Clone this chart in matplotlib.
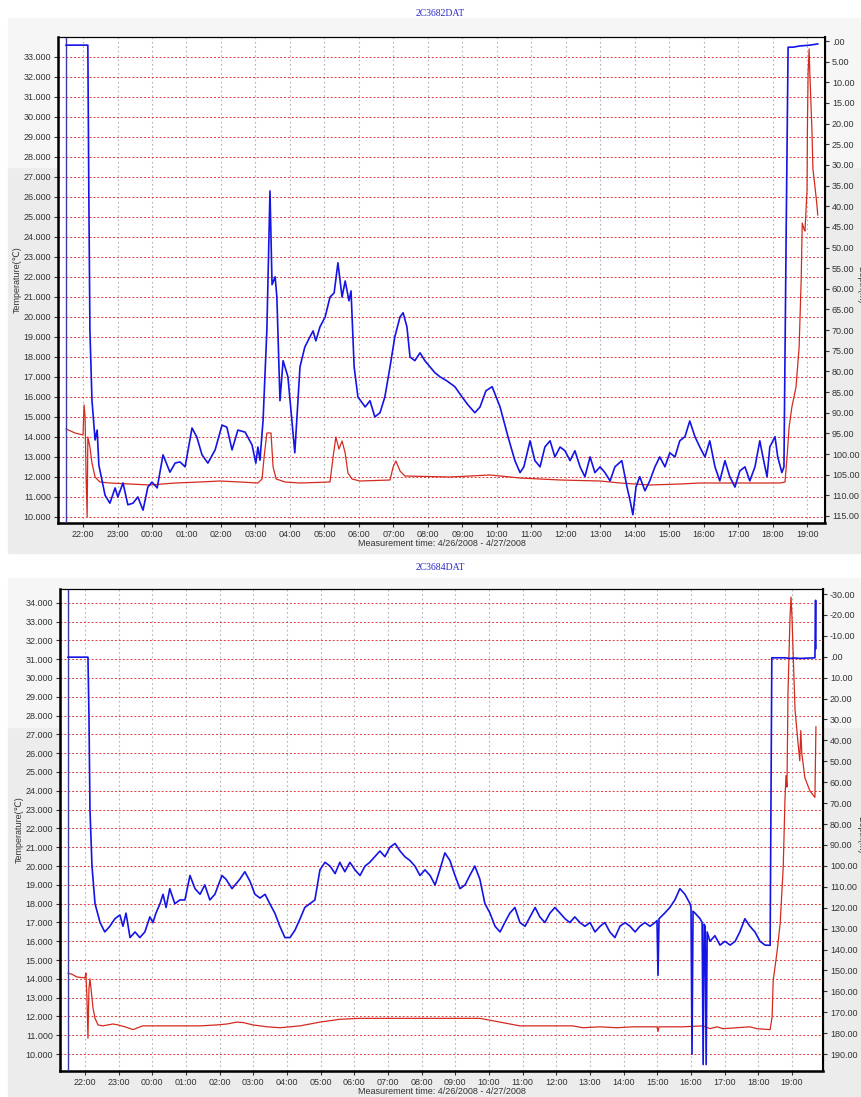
import matplotlib
matplotlib.use('Agg')
import matplotlib.pyplot as plt
from matplotlib.patches import Rectangle
from matplotlib.ticker import FuncFormatter

plt.rcParams['font.family'] = ['Liberation Sans', 'DejaVu Sans']

# time axis: decimal hours counted from 0:00 on 4/26/2008 (so 43 = 19:00 on 4/27)
hour_ticks = list(range(22, 44))

# ---- logger 2C3682DAT ----
top_temp_h = [21.51, 21.77, 22.00, 22.03, 22.06, 22.09, 22.12, 22.14, 22.20, 22.26, 22.35,
              22.49, 22.78, 23.36, 23.94, 24.67, 25.39, 25.97, 26.55, 27.07, 27.19, 27.25,
              27.33, 27.45, 27.51, 27.60, 27.86, 28.29, 29.16, 29.25, 29.33, 29.42, 29.51,
              29.60, 29.68, 29.80, 30.03, 30.90, 30.99, 31.07, 31.19, 31.33, 32.64, 33.80,
              34.67, 35.83, 36.99, 37.57, 38.44, 39.31, 39.89, 41.05, 42.21, 42.35, 42.41,
              42.47, 42.55, 42.67, 42.76, 42.82, 42.85, 42.90, 42.93, 42.99, 43.00, 43.02,
              43.05, 43.07, 43.13, 43.16, 43.22, 43.27, 43.30]
top_temp = [14.4, 14.2, 14.1, 15.6, 15.0, 12.0, 10.0, 14.0, 13.5, 12.7, 12.0,
            11.75, 11.7, 11.65, 11.6, 11.7, 11.75, 11.8, 11.75, 11.7, 11.9, 13.0,
            14.2, 14.2, 12.5, 11.9, 11.75, 11.7, 11.75, 13.0, 14.0, 13.4, 13.8,
            13.2, 12.2, 11.9, 11.8, 11.85, 12.5, 12.8, 12.3, 12.05, 12.0, 12.1,
            11.95, 11.85, 11.8, 11.7, 11.6, 11.65, 11.7, 11.7, 11.7, 11.75, 13.0,
            14.5, 15.5, 16.5, 18.5, 21.9, 24.7, 24.4, 24.3, 26.4, 29.4, 32.2,
            33.4, 32.2, 29.4, 27.4, 26.5, 25.7, 25.1]

top_depth_h = [21.51, 22.12, 22.14, 22.17, 22.20, 22.26, 22.35, 22.41, 22.46, 22.55, 22.64,
               22.78, 22.93, 23.01, 23.16, 23.30, 23.45, 23.59, 23.74, 23.88, 24.00, 24.15,
               24.32, 24.52, 24.67, 24.81, 24.96, 25.16, 25.30, 25.45, 25.62, 25.83, 26.03,
               26.17, 26.32, 26.49, 26.70, 26.90, 27.01, 27.07, 27.13, 27.22, 27.33, 27.42,
               27.48, 27.57, 27.62, 27.71, 27.80, 27.94, 28.14, 28.29, 28.43, 28.58, 28.67,
               28.75, 28.87, 29.02, 29.16, 29.28, 29.39, 29.51, 29.60, 29.71, 29.77, 29.86,
               29.97, 30.18, 30.32, 30.46, 30.61, 30.75, 30.90, 31.04, 31.19, 31.28, 31.39,
               31.48, 31.62, 31.77, 31.91, 32.06, 32.20, 32.35, 32.55, 32.78, 32.99, 33.16,
               33.36, 33.51, 33.68, 33.86, 34.09, 34.32, 34.52, 34.67, 34.78, 34.96, 35.10,
               35.25, 35.39, 35.54, 35.68, 35.83, 35.97, 36.12, 36.26, 36.41, 36.55, 36.70,
               36.84, 36.99, 37.13, 37.28, 37.42, 37.62, 37.77, 37.86, 37.94, 38.03, 38.14,
               38.29, 38.43, 38.58, 38.72, 38.87, 39.01, 39.16, 39.30, 39.45, 39.59, 39.74,
               39.88, 40.03, 40.17, 40.32, 40.46, 40.61, 40.75, 40.90, 41.04, 41.19, 41.33,
               41.48, 41.62, 41.71, 41.83, 41.91, 42.06, 42.14, 42.26, 42.32, 42.38, 42.44,
               42.58, 42.78, 43.07, 43.30]
top_depth = [1.0, 1.0, 1.0, 38.5, 70.0, 87.0, 96.6, 94.2, 102.7, 106.3, 110.0,
             111.9, 108.2, 110.4, 107.0, 112.3, 111.9, 110.4, 113.6, 108.0, 106.8, 108.2,
             100.2, 104.4, 102.2, 101.9, 103.1, 93.7, 95.9, 100.2, 102.2, 99.0, 93.0,
             93.5, 99.0, 94.2, 94.7, 97.8, 102.2, 98.3, 101.5, 91.8, 70.0, 36.3,
             59.0, 57.1, 62.0, 87.1, 77.4, 81.3, 99.7, 78.9, 74.1, 71.6, 70.2,
             72.6, 69.2, 66.8, 62.0, 61.0, 53.7, 62.0, 58.1, 62.9, 60.5, 78.9,
             86.2, 88.6, 87.1, 91.0, 90.0, 86.2, 78.9, 71.6, 66.8, 65.8, 69.2,
             76.5, 77.4, 75.5, 77.4, 78.9, 80.3, 81.3, 82.3, 83.7, 86.2, 88.1,
             90.0, 88.6, 84.7, 83.7, 88.6, 95.8, 101.6, 104.5, 103.1, 96.8, 101.6,
             103.1, 98.3, 96.8, 100.7, 98.3, 99.2, 101.6, 99.2, 103.1, 105.5, 100.7,
             104.5, 103.1, 104.5, 106.5, 103.1, 101.6, 108.0, 111.3, 114.7, 108.0, 105.5,
             108.9, 106.5, 103.1, 100.7, 103.1, 99.7, 100.7, 96.8, 95.8, 92.0, 95.8,
             98.3, 100.7, 96.8, 103.1, 106.5, 101.6, 105.5, 108.0, 104.1, 103.1, 106.5,
             103.1, 96.8, 100.7, 105.5, 98.3, 95.8, 100.7, 104.5, 103.1, 50.0, 1.5,
             1.5, 1.2, 1.0, 0.7]

# ---- logger 2C3684DAT ----
bot_temp_h = [21.50, 21.61, 21.76, 22.00, 22.03, 22.06, 22.09, 22.12, 22.15, 22.18, 22.24,
              22.30, 22.39, 22.53, 22.83, 22.98, 23.19, 23.43, 23.57, 23.72, 25.42, 25.92,
              26.22, 26.51, 26.69, 26.99, 27.41, 27.79, 28.09, 28.39, 28.98, 29.57, 30.17,
              33.73, 34.03, 34.62, 34.92, 35.81, 36.49, 36.79, 37.30, 37.80, 38.28, 38.99,
              39.02, 39.05, 39.76, 40.36, 40.56, 40.77, 40.95, 41.36, 41.75, 41.96, 42.35,
              42.41, 42.44, 42.56, 42.65, 42.74, 42.79, 42.82, 42.85, 42.88, 42.94, 42.97,
              43.00, 43.03, 43.09, 43.18, 43.23, 43.26, 43.29, 43.38, 43.53, 43.68, 43.71]
bot_temp = [14.3, 14.25, 14.1, 14.05, 14.3, 13.0, 10.85, 13.5, 14.0, 13.5, 12.45,
            11.9, 11.55, 11.5, 11.6, 11.55, 11.45, 11.3, 11.4, 11.5, 11.5, 11.55,
            11.6, 11.7, 11.68, 11.55, 11.45, 11.4, 11.45, 11.5, 11.7, 11.85, 11.9,
            11.9, 11.8, 11.6, 11.5, 11.5, 11.5, 11.4, 11.45, 11.4, 11.45, 11.45,
            11.2, 11.45, 11.45, 11.5, 11.35, 11.45, 11.35, 11.4, 11.45, 11.35, 11.3,
            12.0, 13.9, 15.5, 17.0, 20.0, 23.5, 24.8, 24.2, 29.2, 33.2, 34.3,
            33.2, 31.5, 28.3, 26.5, 25.6, 27.2, 26.0, 24.7, 24.0, 23.65, 27.4]

bot_depth_h = [21.50, 22.09, 22.12, 22.15, 22.21, 22.30, 22.45, 22.59, 22.74, 22.89, 23.04,
               23.13, 23.22, 23.34, 23.49, 23.63, 23.78, 23.93, 24.02, 24.11, 24.23, 24.32,
               24.41, 24.52, 24.67, 24.82, 24.97, 25.12, 25.27, 25.42, 25.56, 25.71, 25.86,
               26.07, 26.19, 26.37, 26.60, 26.75, 26.90, 27.05, 27.20, 27.35, 27.49, 27.64,
               27.79, 27.94, 28.09, 28.24, 28.39, 28.53, 28.68, 28.83, 28.98, 29.13, 29.28,
               29.43, 29.57, 29.72, 29.87, 30.02, 30.17, 30.32, 30.46, 30.61, 30.76, 30.91,
               31.06, 31.21, 31.36, 31.50, 31.65, 31.80, 31.95, 32.10, 32.25, 32.40, 32.54,
               32.69, 32.84, 32.99, 33.14, 33.29, 33.43, 33.58, 33.73, 33.88, 34.03, 34.18,
               34.33, 34.47, 34.62, 34.77, 34.92, 35.07, 35.22, 35.37, 35.51, 35.66, 35.81,
               35.96, 36.11, 36.26, 36.40, 36.55, 36.70, 36.85, 37.00, 37.15, 37.30, 37.44,
               37.59, 37.74, 37.89, 38.04, 38.19, 38.34, 38.48, 38.63, 38.78, 38.93, 38.99,
               39.02, 39.05, 39.22, 39.37, 39.52, 39.67, 39.82, 39.97, 40.00, 40.03, 40.06,
               40.12, 40.27, 40.33, 40.36, 40.39, 40.42, 40.45, 40.48, 40.56, 40.71, 40.86,
               41.01, 41.16, 41.31, 41.45, 41.60, 41.75, 41.90, 42.05, 42.20, 42.35, 42.40,
               42.79, 42.94, 43.09, 43.23, 43.68, 43.70, 43.71]
bot_depth = [0.2, 0.2, 28.1, 73.1, 100.1, 118.1, 127.1, 131.6, 128.9, 125.3, 123.5,
             128.9, 122.6, 134.3, 131.6, 134.3, 131.6, 124.4, 127.1, 122.6, 118.1, 113.6,
             119.9, 110.9, 118.1, 116.3, 116.3, 104.6, 110.9, 113.6, 109.1, 116.3, 113.6,
             104.6, 106.4, 110.9, 106.4, 102.8, 107.3, 113.6, 115.4, 113.6, 118.1, 122.6,
             128.9, 134.3, 134.3, 130.7, 125.3, 119.9, 118.1, 116.3, 101.9, 98.3, 100.1,
             103.7, 98.3, 102.8, 98.3, 101.9, 104.6, 100.1, 98.3, 95.6, 92.9, 95.6,
             91.1, 89.3, 92.9, 95.6, 97.4, 100.1, 104.6, 101.9, 104.6, 109.1, 101.9,
             93.8, 97.4, 104.6, 110.9, 109.1, 104.6, 100.1, 106.4, 118.1, 122.6, 128.9,
             131.6, 127.1, 122.6, 119.9, 127.1, 128.9, 124.4, 119.9, 124.4, 127.1, 122.6,
             119.9, 122.6, 125.3, 127.1, 124.4, 127.1, 128.9, 127.1, 131.6, 128.9, 127.1,
             131.6, 134.3, 128.9, 127.1, 128.9, 131.6, 128.9, 127.1, 128.9, 127.1, 126.2,
             152.3, 125.3, 122.6, 119.9, 116.3, 110.9, 113.6, 118.1, 119.9, 190.0, 121.7,
             122.6, 125.3, 127.1, 195.0, 127.9, 128.9, 195.0, 131.6, 136.1, 133.4, 137.9,
             136.1, 137.9, 136.1, 131.6, 125.3, 128.9, 131.6, 136.1, 137.9, 138.0, 0.5,
             0.5, 0.8, 0.6, 0.8, 0.5, -27.0, -4.0]

fig = plt.figure(figsize=(8.62, 10.97), dpi=100)
W, H = 862.0, 1097.0


def panel(y0, y1, split):
    # grey chart background, lighter upper band
    fig.add_artist(Rectangle((8 / W, 1 - y1 / H), 1 - 8 / W, (y1 - split) / H,
                             transform=fig.transFigure, color='#ececec', zorder=-5))
    fig.add_artist(Rectangle((8 / W, 1 - split / H), 1 - 8 / W, (split - y0) / H,
                             transform=fig.transFigure, color='#f6f6f6', zorder=-5))


def chart(px, xlim, tlim, tticks, dlim, dticks, t_h, t, d_h, d, title, title_y):
    x0, y0, x1, y1 = px
    ax = fig.add_axes([x0 / W, 1 - y1 / H, (x1 - x0) / W, (y1 - y0) / H])
    ax.set_facecolor('white')
    ax.set_xlim(xlim)
    ax.set_ylim(tlim)
    ax.set_yticks(tticks)
    ax.set_xticks(hour_ticks)
    ax.yaxis.set_major_formatter(FuncFormatter(lambda v, p: f'{v:.3f}'))
    ax.xaxis.set_major_formatter(FuncFormatter(lambda v, p: f'{int(round(v)) % 24:02d}:00'))
    ax.grid(axis='y', color='#e03c3c', ls=(0, (2, 2)), lw=0.7)
    ax.grid(axis='x', color='#b4b4b4', ls=(0, (1.5, 2.5)), lw=0.8)
    ax.tick_params(labelsize=6.5, length=3, pad=2, colors='#333333')
    for s in ['left', 'bottom']:
        ax.spines[s].set_linewidth(1.8)
    ax.spines['top'].set_linewidth(0.8)
    ax.plot(t_h, t, color='#d42a1e', lw=0.9, zorder=3)
    ax.set_ylabel('Temperature(℃)', fontsize=6.5, color='#333333')
    ax.yaxis.set_label_coords(-0.047, 0.5)
    ax.set_xlabel('Measurement time: 4/26/2008 - 4/27/2008', fontsize=6.5, color='#333333')
    ax.xaxis.set_label_coords(0.5, -0.033)

    ax2 = ax.twinx()
    ax2.set_ylim(dlim)
    ax2.set_yticks(dticks)

    def dfmt(v, p):
        s = f'{v:.2f}'
        return '.00' if s in ('0.00', '-0.00') else s
    ax2.yaxis.set_major_formatter(FuncFormatter(dfmt))
    ax2.tick_params(labelsize=6.5, length=3, pad=2, colors='#333333')
    ax2.spines['right'].set_linewidth(1.5)
    ax2.axvline(d_h[0], color='#3c3ca8', lw=1.0)
    ax2.plot(d_h, d, color='#1414e6', lw=1.2)
    # depth label sits on the right edge, partly cut off as in the screenshot
    ax2.set_ylabel('Depth(m)', fontsize=6.5, rotation=270, color='#333333', va='center')
    ax2.yaxis.set_label_coords((861 - x0) / (x1 - x0), 0.49)

    fig.text(440 / W, 1 - title_y / H, title, color='#2a2ac8', family='Liberation Serif',
             fontsize=7, ha='center', va='center')
    return ax, ax2


panel(18, 553, 167)
panel(578, 1097, 727)

chart((58, 37, 825, 523), (21.275, 43.51), (9.7, 34.0), list(range(10, 34)),
      (116.7, -0.97), list(range(0, 116, 5)),
      top_temp_h, top_temp, top_depth_h, top_depth, '2C3682DAT', 13)
chart((60, 589, 823, 1071), (21.26, 43.92), (9.1, 34.73), list(range(10, 35)),
      (198.1, -32.4), list(range(-30, 191, 10)),
      bot_temp_h, bot_temp, bot_depth_h, bot_depth, '2C3684DAT', 567)

fig.savefig('out.png', dpi=100)
